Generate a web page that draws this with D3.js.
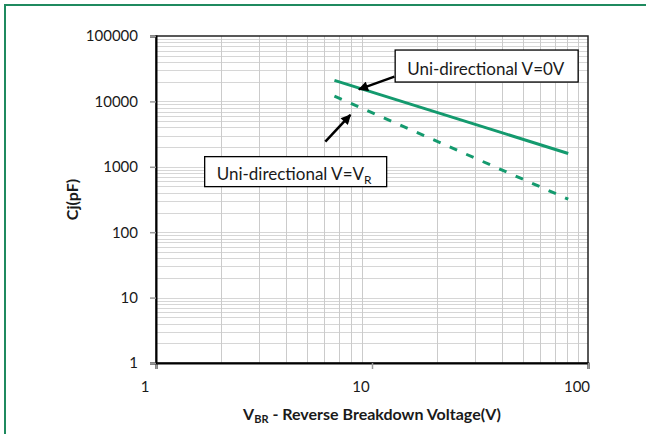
<!DOCTYPE html>
<html>
<head>
<meta charset="utf-8">
<script src="https://cdn.jsdelivr.net/npm/d3@7"></script>
<style>
  body { margin: 0; background: #fff; }
  text { font-family: Lato, "Liberation Sans", sans-serif; fill: #1a1a1a; }
</style>
</head>
<body>
<script>
// breakdown voltage (V) and junction capacitance (pF)
const vbr = [6.7, 81];
const cjZeroBias = [21000, 1600];
const cjReverse = [12000, 320];

const xTicks = [1, 10, 100];
const yTicks = [1, 10, 100, 1000, 10000, 100000];

// callouts anchored in data units
const callouts = [
    { label: "Uni-directional V=0V", sub: "", boxV: 12.8, boxC: 61000, tailV: 12.7, tailC: 23900, tipV: 8.7, tipC: 15300 },
    { label: "Uni-directional V=V", sub: "R", boxV: 1.68, boxC: 1430, tailV: 6.08, tailC: 2420, tipV: 7.94, tipC: 6200 }
];

const W = 646, H = 434;
const margin = { top: 36, right: 58, bottom: 71, left: 156 },
    width = 588 - margin.left,
    height = 363 - margin.top;

const svg = d3.select("body").append("svg")
    .attr("width", W)
    .attr("height", H);

// green outer frame
svg.append("rect")
    .attr("x", 5).attr("y", 5)
    .attr("width", 700).attr("height", 500)
    .attr("fill", "none")
    .attr("stroke", "#1f8a5f")
    .attr("stroke-width", 2);

const g = svg.append("g")
    .attr("transform", "translate(" + margin.left + "," + margin.top + ")");

const x = d3.scaleLog().domain([1, 100]).range([0, width]);
const y = d3.scaleLog().domain([1, 100000]).range([height, 0]);

// minor grid: 1..9 in each decade
const xGrid = [];
for (let d = 1; d < 100; d *= 10) for (let k = 2; k <= 9; k++) xGrid.push(d * k);
const yGrid = [];
for (let d = 1; d < 100000; d *= 10) for (let k = 1; k <= 9; k++) yGrid.push(d * k);

g.selectAll(".hgrid")
    .data(yGrid)
    .enter().append("line")
    .attr("x1", 0).attr("x2", width)
    .attr("y1", d => Math.round(y(d)) + 0.5)
    .attr("y2", d => Math.round(y(d)) + 0.5)
    .attr("stroke", "#d6d6d6");

g.selectAll(".vgrid")
    .data(xGrid)
    .enter().append("line")
    .attr("y1", 0).attr("y2", height)
    .attr("x1", d => Math.round(x(d)) + 0.5)
    .attr("x2", d => Math.round(x(d)) + 0.5)
    .attr("stroke", "#cbcbcb");

// plot border
g.append("rect")
    .attr("width", width).attr("height", height)
    .attr("fill", "none")
    .attr("stroke", "#222")
    .attr("stroke-width", 1.5);

// axes
const xAxis = g.append("g")
    .attr("transform", "translate(0," + height + ")")
    .call(d3.axisBottom(x).tickValues(xTicks).tickFormat(d3.format("d")).tickSize(6).tickPadding(8));
const yAxis = g.append("g")
    .call(d3.axisLeft(y).tickValues(yTicks).tickFormat(d3.format("d")).tickSize(6).tickPadding(12));

[xAxis, yAxis].forEach(a => {
    a.select(".domain").attr("stroke", "#000").attr("stroke-width", 2);
    a.selectAll(".tick line").attr("stroke", "#999").attr("stroke-width", 1.5);
    a.selectAll(".tick text").attr("font-size", 15).attr("fill", "#1a1a1a")
        .style("font-family", "Lato, 'Liberation Sans', sans-serif");
});
xAxis.selectAll(".tick text").attr("dx", -11.5).attr("dy", "1em");

// data lines
const line = d3.line()
    .x(d => x(d[0]))
    .y(d => y(d[1]));

g.append("path")
    .datum(d3.zip(vbr, cjZeroBias))
    .attr("d", line)
    .attr("fill", "none")
    .attr("stroke", "#149a6e")
    .attr("stroke-width", 3);

g.append("path")
    .datum(d3.zip(vbr, cjReverse))
    .attr("d", line)
    .attr("fill", "none")
    .attr("stroke", "#149a6e")
    .attr("stroke-width", 3)
    .attr("stroke-dasharray", "8,10");

// arrow head
svg.append("defs").append("marker")
    .attr("id", "head")
    .attr("viewBox", "0 0 10 10")
    .attr("refX", 9).attr("refY", 5)
    .attr("markerWidth", 4.5).attr("markerHeight", 4)
    .attr("markerUnits", "strokeWidth")
    .attr("orient", "auto")
    .append("path")
    .attr("d", "M0,0L10,5L0,10z")
    .attr("fill", "#000");

const boxW = [183, 182], boxH = [32, 30];

callouts.forEach((c, i) => {
    g.append("line")
        .attr("x1", x(c.tailV)).attr("y1", y(c.tailC))
        .attr("x2", x(c.tipV)).attr("y2", y(c.tipC))
        .attr("stroke", "#000")
        .attr("stroke-width", 2.5)
        .attr("marker-end", "url(#head)");

    const bx = x(c.boxV), by = y(c.boxC);
    g.append("rect")
        .attr("x", bx).attr("y", by)
        .attr("width", boxW[i]).attr("height", boxH[i])
        .attr("fill", "#fff")
        .attr("stroke", "#000")
        .attr("stroke-width", 1.3);

    const t = g.append("text")
        .attr("x", bx + 12)
        .attr("y", by + boxH[i] - 7)
        .attr("font-size", 17)
        .text(c.label);
    if (c.sub) {
        t.append("tspan")
            .attr("font-size", 12)
            .attr("dy", 4)
            .text(c.sub);
    }
});

// axis titles
const xt = svg.append("text")
    .attr("x", margin.left + width / 2)
    .attr("y", 420)
    .attr("text-anchor", "middle")
    .attr("font-size", 16)
    .attr("font-weight", "bold");
xt.append("tspan").text("V");
xt.append("tspan").attr("font-size", 11).attr("dy", 3).text("BR");
xt.append("tspan").attr("dy", -3).text(" - Reverse Breakdown Voltage(V)");

svg.append("text")
    .attr("transform", "translate(78," + (margin.top + height / 2) + ") rotate(-90)")
    .attr("text-anchor", "middle")
    .attr("font-size", 16)
    .attr("font-weight", "bold")
    .text("Cj(pF)");
</script>
</body>
</html>
